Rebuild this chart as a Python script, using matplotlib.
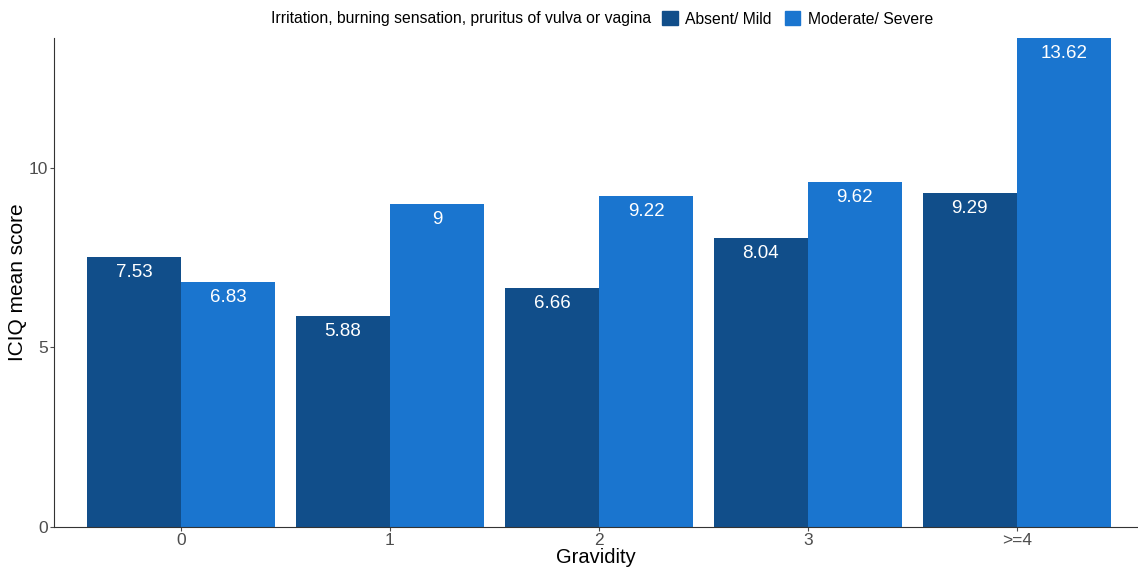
import matplotlib
matplotlib.use("Agg")
import matplotlib.pyplot as plt
import numpy as np
from matplotlib.patches import Patch
from matplotlib.offsetbox import HPacker

categories = ["0", "1", "2", "3", ">=4"]
absent_mild = [7.53, 5.88, 6.66, 8.04, 9.29]
moderate_severe = [6.83, 9.00, 9.22, 9.62, 13.62]
label_absent = ["7.53", "5.88", "6.66", "8.04", "9.29"]
label_moderate = ["6.83", "9", "9.22", "9.62", "13.62"]

c_dark = "#114E8A"
c_light = "#1A75CF"

plt.rcParams['font.family'] = ['Liberation Sans', 'DejaVu Sans']

fig = plt.figure(figsize=(11.38, 5.69), dpi=100)
ax = fig.add_axes([54/1138, 42/569, 1 - 54/1138 - 1/1138, (527-38)/569])

x = np.arange(len(categories))
w = 0.45
b1 = ax.bar(x - w/2, absent_mild, width=w, color=c_dark)
b2 = ax.bar(x + w/2, moderate_severe, width=w, color=c_light)

for bars, labs in ((b1, label_absent), (b2, label_moderate)):
    for r, t in zip(bars, labs):
        ax.annotate(t, (r.get_x() + r.get_width()/2, r.get_height()),
                    xytext=(0, -5), textcoords="offset points",
                    ha="center", va="top", color="white", fontsize=13.5)

ax.set_xlim(-0.608, 4.575)
ax.set_ylim(0, max(moderate_severe))
ax.set_xticks(x)
ax.set_xticklabels(categories)
ax.set_yticks([0, 5, 10])
ax.tick_params(axis="both", colors="#4D4D4D", labelsize=12.5, length=3, width=0.8, pad=1.5)
for lab in ax.get_xticklabels() + ax.get_yticklabels():
    lab.set_color("#4D4D4D")
ax.spines["top"].set_visible(False)
ax.spines["right"].set_visible(False)
ax.spines["left"].set_color("#333333")
ax.spines["bottom"].set_color("#333333")
ax.set_xlabel("Gravidity", fontsize=14.5, va="center")
ax.set_ylabel("ICIQ mean score", fontsize=15, va="center")
ax.xaxis.set_label_coords(0.5, -(557.5 - 527) / 489)
ax.yaxis.set_label_coords(-(54 - 18) / 1083, 0.5)

handles = [Patch(color=c_dark, label="Absent/ Mild"), Patch(color=c_light, label="Moderate/ Severe")]
leg = fig.legend(handles=handles, loc="upper center", bbox_to_anchor=(0.529, 1.005), ncol=2,
                 frameon=False, fontsize=11.3, title="Irritation, burning sensation, pruritus of vulva or vagina",
                 title_fontsize=11.3, handlelength=1.0, handleheight=1.0, handletextpad=0.5, columnspacing=0.8)
box = leg._legend_box
box._children = [HPacker(children=box._children, align="center", pad=0, sep=8)]

fig.savefig("out.png", dpi=100)
